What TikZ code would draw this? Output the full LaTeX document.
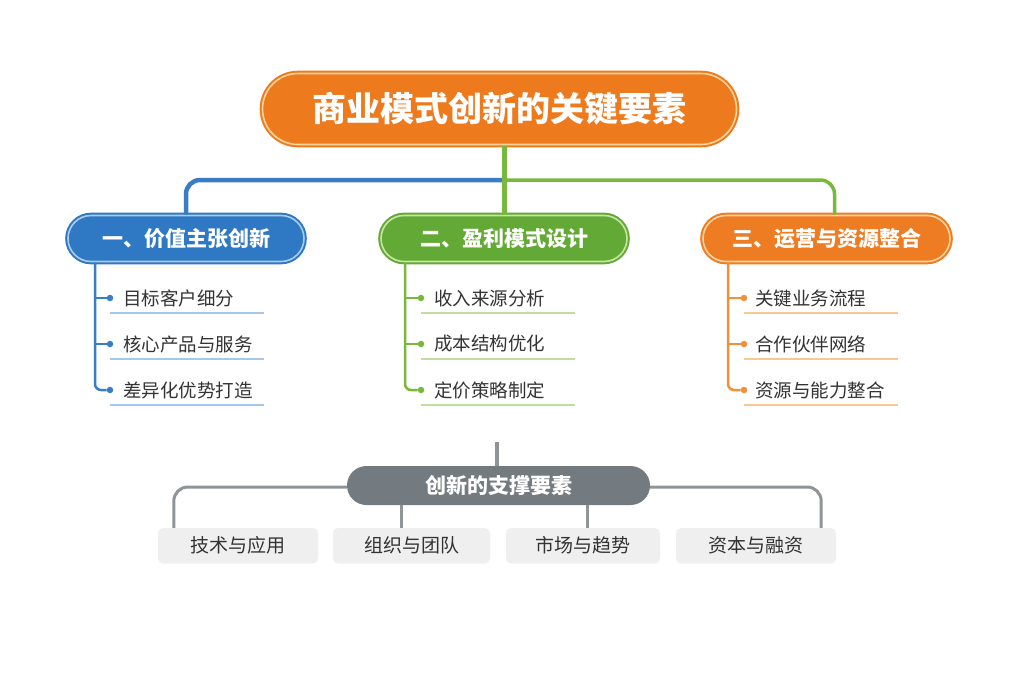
\documentclass[tikz,border=0pt]{standalone}
\usepackage{fontspec}
\setmainfont{Noto Sans CJK SC}
\usetikzlibrary{shapes.misc, shadows, positioning, calc}

\definecolor{ttlorange}{HTML}{EE7A1E}
\definecolor{ttlcream}{HTML}{F9D49A}
\definecolor{bluemain}{HTML}{2F78C4}
\definecolor{bluecream}{HTML}{A9CCEE}
\definecolor{blueline}{HTML}{3A7DC6}
\definecolor{bluelight}{HTML}{A8C8E8}
\definecolor{greenmain}{HTML}{62A935}
\definecolor{greencream}{HTML}{C8E4A2}
\definecolor{greenline}{HTML}{78B83A}
\definecolor{greenlight}{HTML}{C2DEA0}
\definecolor{orgmain}{HTML}{EE7C22}
\definecolor{orgcream}{HTML}{F9D3A0}
\definecolor{orgline}{HTML}{F0903A}
\definecolor{orglight}{HTML}{F7C892}
\definecolor{supgray}{HTML}{737A80}
\definecolor{suplink}{HTML}{8E9498}
\definecolor{boxgray}{HTML}{EFEFEF}
\definecolor{itemgray}{HTML}{333333}

\begin{document}
\begin{tikzpicture}[x=1pt,y=-1pt,
  pill/.style={rounded rectangle, inner sep=0pt, line width=2pt, double distance=1.6pt},
  grp/.style={pill, minimum width=236pt, minimum height=46pt, text=white,
    font=\fontsize{21}{24}\selectfont\bfseries},
  item/.style={anchor=west, inner sep=0pt, text=itemgray, font=\fontsize{18.5}{20}\selectfont},
  dotmark/.style={circle, inner sep=0pt, minimum size=6.5pt},
  supbox/.style={rectangle, rounded corners=5pt, fill=boxgray, minimum width=158pt,
    minimum height=34pt, text=itemgray, font=\fontsize{19}{21}\selectfont,
    drop shadow={opacity=0.12, shadow xshift=0pt, shadow yshift=-1.5pt}},
  link/.style={line width=3pt, rounded corners=14pt}]

  \fill[white] (0,0) rectangle (1024,683);
  \useasboundingbox (0,0) rectangle (1024,683);

  % title and the three groups
  \node[pill, fill=ttlorange, draw=ttlorange, double=ttlcream, minimum width=474pt,
    minimum height=71pt, text=white, font=\fontsize{34}{40}\selectfont\bfseries]
    (title) at (499.5,109) {商业模式创新的关键要素};
  \node[grp, fill=bluemain, draw=bluemain, double=bluecream] (g1) at (186,238.5) {一、价值主张创新};
  \node[grp, fill=greenmain, draw=greenmain, double=greencream, minimum width=246pt] (g2) at (504,238.5) {二、盈利模式设计};
  \node[grp, fill=orgmain, draw=orgmain, double=orgcream, minimum width=247pt] (g3) at (826.5,238.5) {三、运营与资源整合};

  \coordinate (hub) at (g2.north |- 0,180);
  \draw[link, blueline, line width=4.5pt] (hub) -| (g1.north);
  \draw[link, greenline, line width=3.5pt] (hub) -| ([xshift=8pt]g3.north);
  \draw[greenline, line width=5pt] (g2.north |- title.south) -- (g2.north);

  % items of each group
  \coordinate (sa) at ($(g1.west |- g1.south)+(28,0)$);
  \coordinate (sb) at ($(g2.west |- g2.south)+(25,0)$);
  \coordinate (sc) at ($(g3.west |- g3.south)+(26,0)$);
  \foreach \t [count=\i] in {目标客户细分,核心产品与服务,差异化优势打造} {
    \node[dotmark, fill=blueline] (a\i) at (110,252+46*\i) {};
    \node[item] (ta\i) at (123,252+46*\i) {\t};
    \draw[bluelight, line width=2pt] (a\i.center) ++(0,15) -- ++(154,0);
  }
  \foreach \t [count=\i] in {收入来源分析,成本结构优化,定价策略制定} {
    \node[dotmark, fill=greenline] (b\i) at (421,252+46*\i) {};
    \node[item] (tb\i) at (434,252+46*\i) {\t};
    \draw[greenlight, line width=2pt] (b\i.center) ++(0,15) -- ++(154,0);
  }
  \foreach \t [count=\i] in {关键业务流程,合作伙伴网络,资源与能力整合} {
    \node[dotmark, fill=orgline] (c\i) at (744,252+46*\i) {};
    \node[item] (tc\i) at (755,252+46*\i) {\t};
    \draw[orglight, line width=2pt] (c\i.center) ++(0,15) -- ++(154,0);
  }
  \draw[blueline, line width=2.5pt, rounded corners=6pt] (sa) |- (a3);
  \draw[blueline, line width=2.5pt] (sa |- a1) -- (a1) (sa |- a2) -- (a2);
  \draw[greenline, line width=2.5pt, rounded corners=6pt] (sb) |- (b3);
  \draw[greenline, line width=2.5pt] (sb |- b1) -- (b1) (sb |- b2) -- (b2);
  \draw[orgline, line width=2.5pt, rounded corners=6pt] (sc) |- (c3);
  \draw[orgline, line width=2.5pt] (sc |- c1) -- (c1) (sc |- c2) -- (c2);

  % support elements
  \node[rounded rectangle, fill=supgray, minimum width=303pt, minimum height=39pt,
    inner sep=0pt, text=white, font=\fontsize{21}{24}\selectfont\bfseries]
    (sup) at (498.5,485.5) {创新的支撑要素};
  \coordinate (stub) at (497,442);
  \node[supbox, minimum width=160pt] (k1) at (238,545) {技术与应用};
  \node[supbox, minimum width=157pt] (k2) at (411.5,545) {组织与团队};
  \node[supbox, minimum width=154pt] (k3) at (583,545) {市场与趋势};
  \node[supbox, minimum width=160pt] (k4) at (756,545) {资本与融资};

  \draw[suplink, line width=4pt] (stub) -- (stub |- sup.north);
  \draw[link, suplink] (sup.west |- 0,487) -| ([xshift=16pt]k1.north west);
  \draw[link, suplink] (sup.east |- 0,487) -| ([xshift=-15pt]k4.north east);
  \draw[suplink, line width=3pt] ([xshift=-10pt]k2.north |- sup.south) -- ([xshift=-10pt]k2.north);
  \draw[suplink, line width=3pt] ([xshift=4pt]k3.north |- sup.south) -- ([xshift=4pt]k3.north);
\end{tikzpicture}
\end{document}
